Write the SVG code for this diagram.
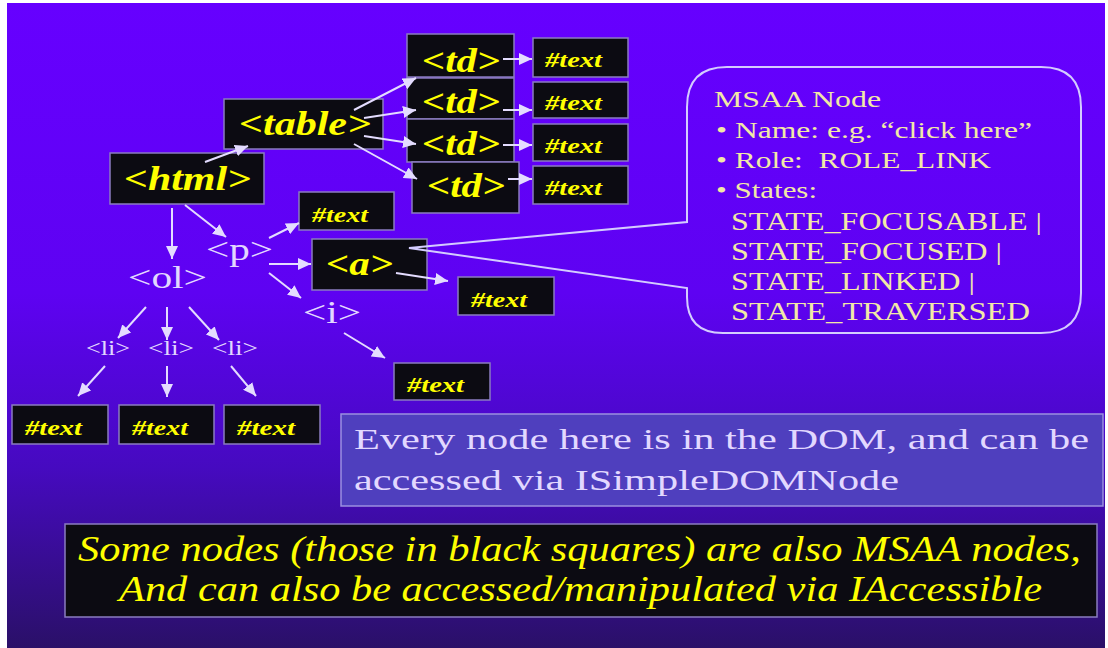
<svg xmlns="http://www.w3.org/2000/svg" width="1108" height="648" viewBox="0 0 1108 648">
<defs>
<linearGradient id="bg" x1="0" y1="0" x2="0" y2="1">
<stop offset="0" stop-color="#6600ff"/>
<stop offset="0.45" stop-color="#5e02f2"/>
<stop offset="0.72" stop-color="#460ac0"/>
<stop offset="1" stop-color="#2a1068"/>
</linearGradient>
<marker id="ah" markerUnits="userSpaceOnUse" markerWidth="14" markerHeight="12" refX="13" refY="6" orient="auto">
<path d="M0,0 L13,6 L0,12 Z" fill="#e4dcff"/>
</marker>
<style>
.box{fill:#0c0b12;stroke:#8a7cc0;stroke-width:1.5}
.y{font-family:"Liberation Serif",serif;font-weight:bold;font-style:italic;fill:#ffff00}
.big{font-size:33px}
.sm{font-size:22px}
.w{font-family:"Liberation Serif",serif;fill:#e2d8ff}
.c{font-family:"Liberation Serif",serif;fill:#f2e9a6}
.conn line{stroke:#e4dcff;stroke-width:2;marker-end:url(#ah)}
</style>
</defs>
<rect x="0" y="0" width="1108" height="648" fill="#ffffff"/>
<rect x="7" y="3" width="1098" height="645" fill="url(#bg)"/>

<g id="td1"><rect class="box" x="407" y="34" width="107" height="43"/><text class="y big" x="422" y="72" textLength="78" lengthAdjust="spacingAndGlyphs">&lt;td&gt;</text></g>
<g id="td2"><rect class="box" x="407" y="78" width="107" height="41"/><text class="y big" x="422" y="113" textLength="78" lengthAdjust="spacingAndGlyphs">&lt;td&gt;</text></g>
<g id="td3"><rect class="box" x="407" y="119" width="107" height="43"/><text class="y big" x="422" y="155" textLength="78" lengthAdjust="spacingAndGlyphs">&lt;td&gt;</text></g>
<g id="td4"><rect class="box" x="412" y="162" width="107" height="51"/><text class="y big" x="427" y="197" textLength="78" lengthAdjust="spacingAndGlyphs">&lt;td&gt;</text></g>

<g id="tdtext1"><rect class="box" x="533" y="38" width="95" height="39"/><text class="y sm" x="545" y="67" textLength="57" lengthAdjust="spacingAndGlyphs">#text</text></g>
<g id="tdtext2"><rect class="box" x="533" y="82" width="95" height="36"/><text class="y sm" x="545" y="110" textLength="57" lengthAdjust="spacingAndGlyphs">#text</text></g>
<g id="tdtext3"><rect class="box" x="533" y="124" width="95" height="37"/><text class="y sm" x="545" y="153" textLength="57" lengthAdjust="spacingAndGlyphs">#text</text></g>
<g id="tdtext4"><rect class="box" x="533" y="166" width="95" height="38"/><text class="y sm" x="545" y="195" textLength="57" lengthAdjust="spacingAndGlyphs">#text</text></g>

<g id="table"><rect class="box" x="224" y="99" width="159" height="50"/><text class="y big" x="239" y="135" textLength="132" lengthAdjust="spacingAndGlyphs">&lt;table&gt;</text></g>
<g id="html"><rect class="box" x="110" y="153" width="154" height="51"/><text class="y big" x="124" y="190" textLength="127" lengthAdjust="spacingAndGlyphs">&lt;html&gt;</text></g>

<g id="ptext"><rect class="box" x="299" y="192" width="95" height="38"/><text class="y sm" x="312" y="222" textLength="56" lengthAdjust="spacingAndGlyphs">#text</text></g>
<g id="a"><rect class="box" x="312" y="239" width="115" height="51"/><text class="y big" x="326" y="275" textLength="67" lengthAdjust="spacingAndGlyphs">&lt;a&gt;</text></g>
<g id="atext"><rect class="box" x="458" y="277" width="96" height="38"/><text class="y sm" x="471" y="307" textLength="56" lengthAdjust="spacingAndGlyphs">#text</text></g>
<g id="itext"><rect class="box" x="394" y="363" width="96" height="37"/><text class="y sm" x="407" y="392" textLength="57" lengthAdjust="spacingAndGlyphs">#text</text></g>

<g id="ol"><text class="w" font-size="32" x="128" y="288" textLength="79" lengthAdjust="spacingAndGlyphs">&lt;ol&gt;</text></g>
<g id="p"><text class="w" font-size="32" x="206" y="260" textLength="67" lengthAdjust="spacingAndGlyphs">&lt;p&gt;</text></g>
<g id="i"><text class="w" font-size="32" x="303" y="323" textLength="58" lengthAdjust="spacingAndGlyphs">&lt;i&gt;</text></g>
<g id="li1"><text class="w" font-size="22" x="86" y="355" textLength="44" lengthAdjust="spacingAndGlyphs">&lt;li&gt;</text></g>
<g id="li2"><text class="w" font-size="22" x="148" y="355" textLength="46" lengthAdjust="spacingAndGlyphs">&lt;li&gt;</text></g>
<g id="li3"><text class="w" font-size="22" x="212" y="355" textLength="46" lengthAdjust="spacingAndGlyphs">&lt;li&gt;</text></g>

<g id="litext1"><rect class="box" x="12" y="405" width="96" height="39"/><text class="y sm" x="25" y="435" textLength="57" lengthAdjust="spacingAndGlyphs">#text</text></g>
<g id="litext2"><rect class="box" x="119" y="405" width="95" height="39"/><text class="y sm" x="132" y="435" textLength="56" lengthAdjust="spacingAndGlyphs">#text</text></g>
<g id="litext3"><rect class="box" x="224" y="405" width="96" height="39"/><text class="y sm" x="237" y="435" textLength="58" lengthAdjust="spacingAndGlyphs">#text</text></g>

<g id="connectors" class="conn">
<line x1="205" y1="162" x2="248" y2="146"/>
<line x1="354" y1="110" x2="416" y2="78"/>
<line x1="364" y1="118" x2="416" y2="110"/>
<line x1="364" y1="136" x2="416" y2="144"/>
<line x1="354" y1="144" x2="417" y2="179"/>
<line x1="503" y1="59" x2="532" y2="59"/>
<line x1="503" y1="110" x2="532" y2="110"/>
<line x1="503" y1="145" x2="532" y2="145"/>
<line x1="508" y1="179" x2="532" y2="179"/>
<line x1="172" y1="208" x2="172" y2="259"/>
<line x1="185" y1="205" x2="226" y2="237"/>
<line x1="269" y1="238" x2="299" y2="223"/>
<line x1="269" y1="264" x2="311" y2="264"/>
<line x1="269" y1="273" x2="301" y2="298"/>
<line x1="396" y1="273" x2="448" y2="281"/>
<line x1="344" y1="333" x2="385" y2="358"/>
<line x1="146" y1="307" x2="118" y2="338"/>
<line x1="167" y1="307" x2="167" y2="340"/>
<line x1="189" y1="307" x2="219" y2="340"/>
<line x1="105" y1="366" x2="78" y2="396"/>
<line x1="167" y1="366" x2="167" y2="397"/>
<line x1="231" y1="366" x2="256" y2="396"/>
</g>

<g id="callout">
<path d="M727,67 H1041 Q1081,67 1081,107 V293 Q1081,333 1041,333 H723 Q687,333 687,297 V288 L409,248 L687,222 V107 Q687,67 727,67 Z" fill="none" stroke="#d4ccff" stroke-width="2"/>
<text class="c" font-size="24" x="714" y="107" textLength="167" lengthAdjust="spacingAndGlyphs">MSAA Node</text>
<text class="c" font-size="24" x="716" y="138" textLength="316" lengthAdjust="spacingAndGlyphs">• Name: e.g. “click here”</text>
<text class="c" font-size="24" x="716" y="168" textLength="275" lengthAdjust="spacingAndGlyphs">• Role:&#160; ROLE_LINK</text>
<text class="c" font-size="24" x="716" y="198" textLength="101" lengthAdjust="spacingAndGlyphs">• States:</text>
<text class="c" font-size="26" x="731" y="230" textLength="311" lengthAdjust="spacingAndGlyphs">STATE_FOCUSABLE |</text>
<text class="c" font-size="26" x="731" y="260" textLength="271" lengthAdjust="spacingAndGlyphs">STATE_FOCUSED |</text>
<text class="c" font-size="26" x="731" y="290" textLength="244" lengthAdjust="spacingAndGlyphs">STATE_LINKED |</text>
<text class="c" font-size="26" x="731" y="320" textLength="299" lengthAdjust="spacingAndGlyphs">STATE_TRAVERSED</text>
</g>

<g id="dom-note">
<rect x="341" y="414" width="762" height="92" fill="#4f3fbe" stroke="#9a90e0" stroke-width="1.5"/>
<text class="w" font-size="29" x="354" y="449" textLength="735" lengthAdjust="spacingAndGlyphs">Every node here is in the DOM, and can be</text>
<text class="w" font-size="29" x="354" y="490" textLength="545" lengthAdjust="spacingAndGlyphs">accessed via ISimpleDOMNode</text>
</g>

<g id="msaa-note">
<rect x="65" y="524" width="1032" height="93" fill="#0c0b12" stroke="#8a7cc0" stroke-width="1.5"/>
<text font-family="Liberation Serif, serif" font-style="italic" font-size="35" fill="#ffff00" x="78" y="561" textLength="1003" lengthAdjust="spacingAndGlyphs">Some nodes (those in black squares) are also MSAA nodes,</text>
<text font-family="Liberation Serif, serif" font-style="italic" font-size="35" fill="#ffff00" x="119" y="601" textLength="923" lengthAdjust="spacingAndGlyphs">And can also be accessed/manipulated via IAccessible</text>
</g>
</svg>
